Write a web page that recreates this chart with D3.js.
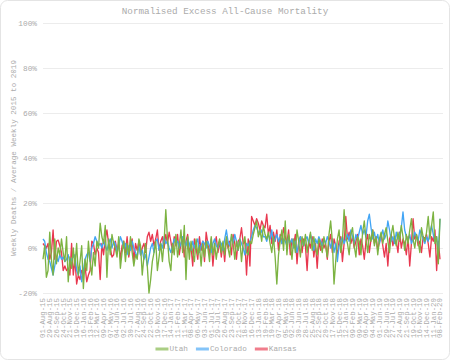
<!DOCTYPE html>
<html><head><meta charset="utf-8">
<script src="https://cdn.jsdelivr.net/npm/d3@7"></script>
<style>html,body{margin:0;padding:0;background:#fff;}svg{display:block;}</style>
</head><body>
<svg id="chart" width="450" height="360"></svg>
<script>
const title = "Normalised Excess All-Cause Mortality";
const yTitle = "Weekly Deaths / Average Weekly 2015 to 2019";
const seriesNames = ["Utah", "Colorado", "Kansas"];
const seriesColors = ["#7cb342", "#42a5f5", "#e8384f"];
const yTicks = [-20, 0, 20, 40, 60, 80, 100];
const tickLabels = ["01-Aug-15","29-Aug-15","26-Sep-15","24-Oct-15","21-Nov-15","19-Dec-15","16-Jan-16","13-Feb-16","12-Mar-16","09-Apr-16","07-May-16","04-Jun-16","02-Jul-16","30-Jul-16","27-Aug-16","24-Sep-16","22-Oct-16","19-Nov-16","17-Dec-16","14-Jan-17","11-Feb-17","11-Mar-17","08-Apr-17","06-May-17","03-Jun-17","01-Jul-17","29-Jul-17","26-Aug-17","23-Sep-17","21-Oct-17","18-Nov-17","16-Dec-17","13-Jan-18","10-Feb-18","10-Mar-18","07-Apr-18","05-May-18","02-Jun-18","30-Jun-18","28-Jul-18","25-Aug-18","22-Sep-18","20-Oct-18","17-Nov-18","15-Dec-18","12-Jan-19","09-Feb-19","09-Mar-19","06-Apr-19","04-May-19","01-Jun-19","29-Jun-19","27-Jul-19","24-Aug-19","21-Sep-19","19-Oct-19","16-Nov-19","14-Dec-19","11-Jan-20","08-Feb-20"];
const weeksPerLabel = 4;

const utah = [
-5,1,-13,-10,7,-5,-12,4,-7,0,-3,4,
-2,-6,5,-15,-4,-9,0,-8,2,-12,-6,1,
-18,-5,-10,3,-6,-12,-2,-8,3,0,11,5,
2,10,-13,4,-3,6,2,0,-4,5,-9,-2,
3,-6,2,-3,5,-2,-8,-3,-5,4,1,-12,
-4,2,-8,-20,-14,-6,-2,3,-10,-4,2,-6,
3,17,4,-6,-10,2,-3,6,-4,1,8,-2,
10,-14,5,-5,3,-2,-6,4,-3,1,-8,2,
-4,3,0,-6,5,-3,2,-5,1,4,-2,3,
-3,5,0,-4,6,2,-5,3,-1,4,-6,2,
5,-2,-3,3,2,6,9,12,5,8,3,10,
6,4,7,2,-2,5,-4,-16,-3,3,8,-1,
12,-3,6,2,-5,4,-2,8,3,-4,5,1,
6,-2,3,7,-1,5,0,-3,4,2,-2,5,
1,-4,6,12,3,-16,-6,4,8,-2,3,17,
5,2,-3,6,9,1,-4,5,3,-3,7,12,
4,-2,6,3,8,1,5,-3,4,7,2,6,
9,3,-2,6,10,4,1,7,3,10,5,-1,
6,2,8,13,4,0,6,3,-2,9,5,3,
7,14,4,10,16,2,5,-7,13];

const colorado = [
4,3,-2,-5,-6,-9,-12,-8,-4,-6,-3,-5,
-4,-6,-5,-3,-7,-5,-4,-3,-10,-12,-8,-15,
-10,-5,-3,-2,-6,0,2,5,3,1,2,0,
3,1,-1,2,4,0,3,2,-2,1,5,3,
0,2,-3,1,-1,3,0,-2,-4,1,-3,-1,
-5,-3,-8,-4,0,2,-2,3,4,-1,2,0,
5,2,3,0,-2,1,4,2,3,0,2,5,
3,1,4,2,-1,3,0,2,4,-2,1,3,
2,0,3,1,-2,2,4,1,0,3,2,-1,
4,8,3,1,5,2,6,3,-1,4,2,0,
-3,2,1,3,5,8,10,9,7,6,8,5,
5,3,6,4,8,2,4,6,3,5,2,4,
3,1,5,2,4,0,3,-2,2,5,3,1,
4,5,2,6,3,-1,4,2,5,3,1,4,
2,5,3,0,4,-2,2,-6,1,3,5,2,
4,6,3,8,5,2,6,4,7,10,6,8,
5,12,15,9,4,7,3,6,2,5,8,4,
6,12,8,3,5,2,7,4,6,9,16,8,
5,3,6,2,4,7,5,3,8,6,4,2,
5,3,7,10,6,3,5,-2,13];

const kansas = [
2,1,0,2,-5,-2,8,-5,3,3.5,1,-2,
-10,-8,-10,-9,-12,2,-12,-5,-16,-12,-14,-10,
-12,-8,-15,-12,-10,3,2,-3,0,-2,-14,2,
-3,4,8,2,0,-4,-3,3,-1,2,-5,1,
3,-2,5,-4,1,4,-6,2,-1,3,-3,0,
2,-2,5,7,3,6,1,4,8,-1,3,5,
0,6,2,7,3,-2,5,1,6,-3,2,4,
-4,3,6,-2,1,-8,4,0,-5,5,-1,3,
-6,7,2,-3,4,-8,1,5,-2,3,-4,2,
-6,4,0,3,-3,6,2,-5,3,4,9,2,
3,-12,4,-8,14,12,10,13,11,8,12,10,
9,15,6,10,2,7,3,8,-1,6,2,9,
5,2,8,-3,4,1,6,-7,3,5,-2,4,
1,-10,3,0,5,-4,2,-9,3,-1,4,0,
2,-5,3,6,-2,4,1,-3,3,5,-6,2,
14,4,7,2,5,0,3,6,-3,4,1,-5,
3,6,-2,4,8,2,5,-1,3,6,1,-4,
2,-8,4,6,1,5,3,-2,7,0,4,2,
-3,5,-8,2,13,4,6,1,3,-2,5,4,
6,2,-4,5,3,8,-10,3,-5];

const seriesValues = [utah, colorado, kansas];

const svg = d3.select("#chart");
const W = 450, H = 360;
const font = "'Liberation Mono', 'DejaVu Sans Mono', monospace";
const txt = "#ababab";

svg.append("rect").attr("x",0.5).attr("y",0.5).attr("width",W-1).attr("height",H-1)
  .attr("rx",7).attr("fill","#fff").attr("stroke","#e4e4e4");

const plotL = 43, plotR = 443, plotT = 23, plotB = 293;
const n = utah.length;
const x = d3.scaleLinear().domain([0, n-1]).range([plotL, 440]);
const y = d3.scaleLinear().domain([-20, 100]).range([plotB, plotT]);

// title
svg.append("text").attr("x", W/2).attr("y", 13.5).attr("text-anchor","middle")
  .attr("font-family", font).attr("font-size", 9.3).attr("fill", txt).text(title);

// y grid + labels
const yAxis = d3.axisLeft(y).tickValues(yTicks).tickSize(-(plotR-plotL)).tickPadding(6)
  .tickFormat(d => d + "%");
const gy = svg.append("g").attr("transform", `translate(${plotL},0)`).call(yAxis);
gy.select(".domain").remove();
gy.selectAll(".tick line").attr("stroke", "#ececec").attr("stroke-width", 1);
gy.selectAll(".tick text").attr("font-family", font).attr("font-size", 7.8).attr("fill", txt);

// y title
svg.append("text").attr("transform", `translate(13.5,${(plotT+plotB)/2}) rotate(-90)`)
  .attr("text-anchor","middle").attr("dominant-baseline","middle")
  .attr("font-family", font).attr("font-size", 7.6).attr("fill", txt).text(yTitle);

// x labels
const xAxis = d3.axisBottom(x).tickValues(tickLabels.map((_, k) => k*weeksPerLabel))
  .tickSize(0).tickPadding(0).tickFormat((d, k) => tickLabels[k]);
const gx = svg.append("g").attr("transform", `translate(0,${plotB})`).call(xAxis);
gx.select(".domain").remove();
gx.selectAll(".tick text")
  .attr("font-family", font).attr("font-size", 7.4).attr("fill", txt)
  .attr("text-anchor","end").attr("dominant-baseline","middle")
  .attr("transform","translate(0,5) rotate(-90)").attr("x",0).attr("y",0).attr("dy",null);

// lines
const line = d3.line().x((d,i) => x(i)).y(d => y(d)).curve(d3.curveLinear);
[2,1,0].forEach(s => {
  svg.append("path").datum(seriesValues[s]).attr("d", line)
    .attr("fill","none").attr("stroke", seriesColors[s]).attr("stroke-width", 1.35)
    .attr("stroke-linejoin","round");
});

// legend
const legY = 349;
const lg = svg.append("g");
let lx = 0;
seriesNames.forEach((name, s) => {
  const g = lg.append("g");
  g.append("rect").attr("x", 0).attr("y", legY-1.5).attr("width", 13).attr("height", 3)
    .attr("fill", seriesColors[s]).attr("opacity", 0.65);
  const t = g.append("text").attr("x", 14).attr("y", legY).attr("dominant-baseline","middle")
    .attr("font-family", font).attr("font-size", 7.7).attr("fill", txt).text(name);
  const w = 14 + t.node().getComputedTextLength();
  g.attr("transform", `translate(${lx},0)`);
  lx += w + 8;
});
const total = lx - 8;
lg.attr("transform", `translate(${226 - total/2},0)`);
</script>
</body></html>
